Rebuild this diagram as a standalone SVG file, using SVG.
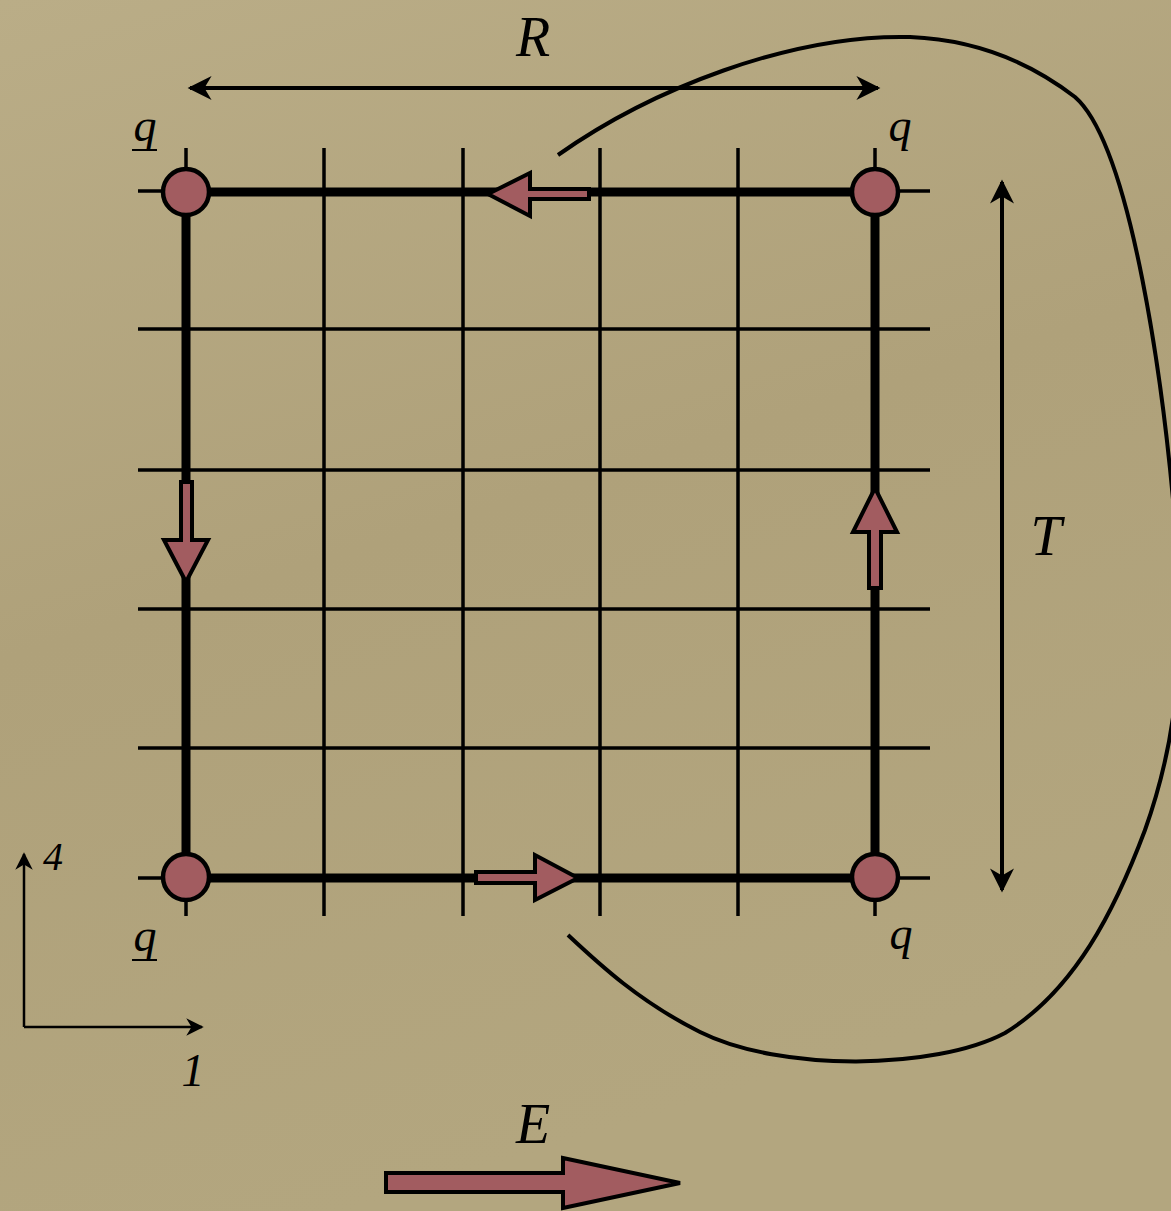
<svg xmlns="http://www.w3.org/2000/svg" width="1171" height="1211" viewBox="0 0 1171 1211">
<defs>
<linearGradient id="bg" x1="0" y1="0" x2="0.3" y2="1">
<stop offset="0" stop-color="#baad87"/>
<stop offset="0.5" stop-color="#afa17a"/>
<stop offset="1" stop-color="#b3a67f"/>
</linearGradient>
<marker id="ah" viewBox="0 0 10 10" refX="9" refY="5" markerWidth="7" markerHeight="6" markerUnits="strokeWidth" orient="auto-start-reverse">
<path d="M0,0 L10,5 L0,10 L3,5 z" fill="#000"/>
</marker>
<marker id="ahs" viewBox="0 0 10 10" refX="9" refY="5" markerWidth="8" markerHeight="7" markerUnits="strokeWidth" orient="auto-start-reverse">
<path d="M0,0 L10,5 L0,10 L3,5 z" fill="#000"/>
</marker>
</defs>
<style>
.thin{stroke:#000;stroke-width:3.5;fill:none}
.thick{stroke:#000;stroke-width:9;fill:none}
.dim{stroke:#000;stroke-width:4;fill:none}
.axis{stroke:#000;stroke-width:2.5;fill:none}
.q{fill:#a25c60;stroke:#000;stroke-width:4.5}
.arr{fill:#a25c60;stroke:#000;stroke-width:4;stroke-linejoin:miter}
.lbl{font-family:"Liberation Serif","Times New Roman",serif;font-style:italic;fill:#000}
.ul{stroke:#000;stroke-width:2}
</style>
<rect x="0" y="0" width="1171" height="1211" fill="url(#bg)"/>

<g id="grid">
<line class="thin" x1="138" y1="191" x2="930" y2="191"/>
<line class="thin" x1="138" y1="329" x2="930" y2="329"/>
<line class="thin" x1="138" y1="470" x2="930" y2="470"/>
<line class="thin" x1="138" y1="609" x2="930" y2="609"/>
<line class="thin" x1="138" y1="748" x2="930" y2="748"/>
<line class="thin" x1="138" y1="878" x2="930" y2="878"/>
<line class="thin" x1="186" y1="148" x2="186" y2="916"/>
<line class="thin" x1="324" y1="148" x2="324" y2="916"/>
<line class="thin" x1="463" y1="148" x2="463" y2="916"/>
<line class="thin" x1="600" y1="148" x2="600" y2="916"/>
<line class="thin" x1="738" y1="148" x2="738" y2="916"/>
<line class="thin" x1="875" y1="148" x2="875" y2="916"/>
</g>

<g id="loop">
<rect class="thick" x="186" y="192" width="689" height="686"/>
</g>

<g id="connectors">
<path class="dim" d="M558,155 C650,90 790,34 910,37 C985,40 1040,70 1075,97 C1130,145 1165,380 1178,560 C1185,680 1170,760 1145,830 C1115,910 1075,990 1005,1033 C935,1070 780,1072 700,1032 C640,1002 600,965 568,935"/>
<line class="dim" x1="190" y1="88" x2="878" y2="88" marker-start="url(#ah)" marker-end="url(#ah)"/>
<line class="dim" x1="1002" y1="182" x2="1002" y2="890" marker-start="url(#ah)" marker-end="url(#ah)"/>
<line class="axis" x1="24" y1="1027" x2="24" y2="854" marker-end="url(#ahs)"/>
<line class="axis" x1="24" y1="1027" x2="202" y2="1027" marker-end="url(#ahs)"/>
</g>

<g id="flow-arrows">
<polygon class="arr" points="488,194 530,173 530,189 589,189 589,199 530,199 530,216"/>
<polygon class="arr" points="186,582 164,540 181,540 181,482 192,482 192,540 208,540"/>
<polygon class="arr" points="875,488 853,532 869,532 869,588 881,588 881,532 897,532"/>
<polygon class="arr" points="578,878 535,855 535,872 476,872 476,883 535,883 535,900"/>
<polygon class="arr" points="680,1183 563,1158 563,1173 386,1173 386,1192 563,1192 563,1208"/>
</g>

<g id="quark-tl"><circle class="q" cx="186" cy="192" r="23"/></g>
<g id="quark-tr"><circle class="q" cx="875" cy="192" r="23"/></g>
<g id="quark-bl"><circle class="q" cx="186" cy="877" r="23"/></g>
<g id="quark-br"><circle class="q" cx="875" cy="877" r="23"/></g>

<g id="labels">
<text class="lbl" x="533" y="56" font-size="56" text-anchor="middle">R</text>
<text class="lbl" x="1046" y="555" font-size="56" text-anchor="middle">T</text>
<text class="lbl" x="533" y="1143" font-size="56" text-anchor="middle">E</text>
<text class="lbl" x="145" y="141" font-size="46" text-anchor="middle">q</text>
<line class="ul" x1="132" y1="150" x2="157" y2="150"/>
<text class="lbl" x="145" y="951" font-size="46" text-anchor="middle">q</text>
<line class="ul" x1="132" y1="960" x2="157" y2="960"/>
<text class="lbl" x="900" y="141" font-size="46" text-anchor="middle">q</text>
<text class="lbl" x="901" y="949" font-size="46" text-anchor="middle">q</text>
<text class="lbl" x="53" y="870" font-size="40" text-anchor="middle">4</text>
<text class="lbl" x="193" y="1086" font-size="46" text-anchor="middle">1</text>
</g>
</svg>
